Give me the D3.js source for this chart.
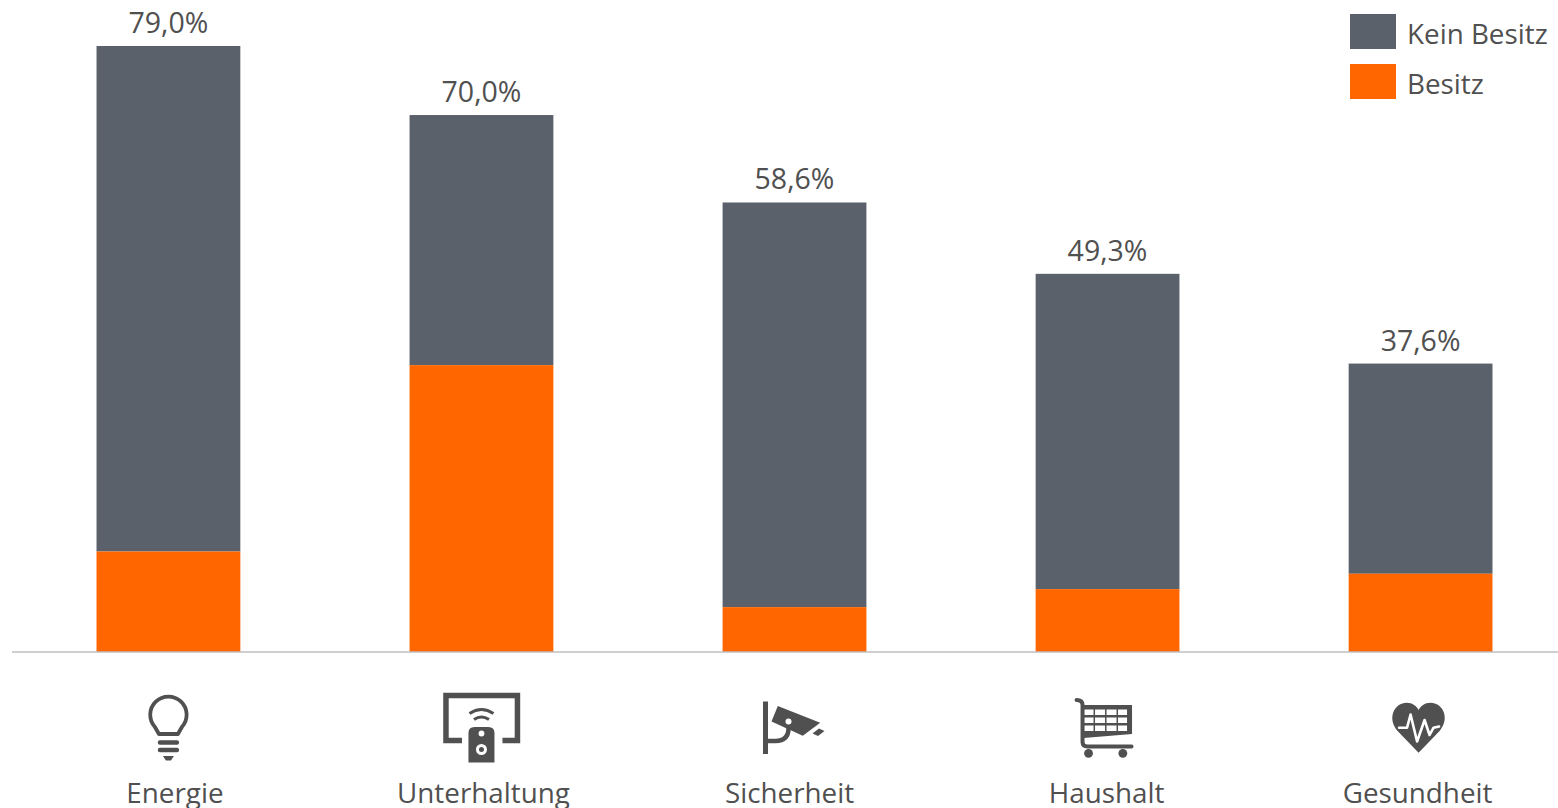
<!DOCTYPE html>
<html lang="de">
<head>
<meta charset="utf-8">
<title>Besitz nach Bereich</title>
<script src="https://cdn.jsdelivr.net/npm/d3@7/dist/d3.min.js"></script>
<style>
  html, body { margin: 0; padding: 0; background: #fff; }
  svg { display: block; }
  text { font-family: "Open Sans", sans-serif; fill: #505050; font-size: 27.8px; }
  text.value { font-size: 28.5px; }
</style>
</head>
<body>
<svg id="chart" width="1558" height="808"></svg>
<script>
// Chart values, in percent
const categories = ["Energie", "Unterhaltung", "Sicherheit", "Haushalt", "Gesundheit"];
const totals = [79.0, 70.0, 58.6, 49.3, 37.6];
const owned = [13.1, 37.4, 5.85, 8.2, 10.2];
const legendLabels = ["Kein Besitz", "Besitz"];

const GREY = "#5a616b", ORANGE = "#ff6600", ICON = "#505050";

const svg = d3.select("#chart");
const x = d3.scaleBand().domain(categories).range([12, 1577]).paddingInner(0.5406).paddingOuter(0.27);
const y = d3.scaleLinear().domain([0, 79]).range([652, 46]);

// Grey column from the owned share up to the total, orange column below it
const rows = categories.map((c, i) => ({ c, total: totals[i], owned: owned[i] }));
const bars = svg.append("g");
bars.selectAll("rect.total").data(rows).join("rect").attr("class", "total")
  .attr("x", d => x(d.c)).attr("width", x.bandwidth())
  .attr("y", d => y(d.total)).attr("height", d => y(d.owned) - y(d.total))
  .attr("fill", GREY);
bars.selectAll("rect.owned").data(rows).join("rect").attr("class", "owned")
  .attr("x", d => x(d.c)).attr("width", x.bandwidth())
  .attr("y", d => y(d.owned)).attr("height", d => y(0) - y(d.owned))
  .attr("fill", ORANGE);

// Total labels above the columns
const fmt = v => v.toFixed(1).replace(".", ",") + "%";
svg.append("g").selectAll("text").data(rows).join("text")
  .attr("class", "value")
  .attr("x", d => x(d.c) + x.bandwidth() / 2)
  .attr("y", d => y(d.total) - 13)
  .attr("text-anchor", "middle")
  .text(d => fmt(d.total));

// Baseline
svg.append("line").attr("x1", 12).attr("x2", 1558)
  .attr("y1", y(0)).attr("y2", y(0))
  .attr("stroke", "#bfbfbf").attr("stroke-width", 1.5);

// Category captions sit slightly off the column centres
const captionShift = [6.5, 2, -5, -1, -3];
svg.append("g").selectAll("text").data(rows).join("text")
  .attr("x", (d, i) => x(d.c) + x.bandwidth() / 2 + captionShift[i])
  .attr("y", 802.5)
  .attr("text-anchor", "middle")
  .text(d => d.c);

// Pictograms, drawn around each column centre
const iconShift = [0, 0, -2, -1, -2];
const icons = {
  Energie(g) {
    g.append("path").attr("fill", "none").attr("stroke", ICON).attr("stroke-width", 3.8)
      .attr("stroke-linejoin", "round")
      .attr("d", "M-9.5 734 L-13.5 727 A18.2 18.2 0 1 1 13.5 727 L9.5 734 Z");
    g.append("path").attr("fill", "none").attr("stroke", ICON).attr("stroke-width", 4.4)
      .attr("stroke-linecap", "round")
      .attr("d", "M-8.5 742.5 H8.5 M-8.5 750 H8.5");
    g.append("path").attr("fill", ICON).attr("d", "M-5.5 756 H5.5 L2.5 760.5 H-2.5 Z");
  },
  Unterhaltung(g) {
    g.append("path").attr("fill", "none").attr("stroke", ICON).attr("stroke-width", 5.5)
      .attr("d", "M-19.5 740.5 H-35.5 V695.5 H36 V740.5 H21");
    g.append("path").attr("fill", ICON)
      .attr("d", "M-13 762.5 V733 Q-13 727 -7 727 H7 Q13 727 13 733 V762.5 Z");
    g.append("circle").attr("cy", 733.5).attr("r", 2.9).attr("fill", "#fff");
    g.append("circle").attr("cy", 749.5).attr("r", 4).attr("fill", "none")
      .attr("stroke", "#fff").attr("stroke-width", 3);
    g.append("path").attr("fill", "none").attr("stroke", ICON).attr("stroke-width", 3)
      .attr("d", "M-7.5 719.5 Q0 714.5 7.5 719.5 M-12 713.5 Q0 705.5 12 713.5");
  },
  Sicherheit(g) {
    g.append("rect").attr("x", -29.5).attr("y", 701.5).attr("width", 5).attr("height", 52.5).attr("fill", ICON);
    g.append("path").attr("fill", "none").attr("stroke", ICON).attr("stroke-width", 4.5)
      .attr("d", "M-25 741 H-17 Q-4 741 -4 728");
    g.append("path").attr("fill", ICON)
      .attr("d", "M-14.7 706 L27.7 722.7 L10.3 735.7 L-21 721.5 Z");
    g.append("circle").attr("cx", -4).attr("cy", 721.5).attr("r", 3).attr("fill", "#fff");
    g.append("path").attr("fill", ICON)
      .attr("d", "M20 733.5 L26.5 728.5 L32 731 L25.5 736 Z");
  },
  Haushalt(g) {
    g.append("path").attr("fill", "none").attr("stroke", ICON).attr("stroke-width", 4)
      .attr("stroke-linecap", "round").attr("stroke-linejoin", "round")
      .attr("d", "M-30 700 Q-24 700 -24 705 V742 Q-24 746.5 -19 746.5 H25");
    g.append("path").attr("fill", ICON).attr("d", "M-23 705 H25.5 V734 L-23 738 Z");
    const cols = [[-22, -13], [-11.5, -1.5], [0, 10], [11.5, 20.5]];
    const cellRows = [[709.5, 715], [717.5, 723], [725.5, 731]];
    cols.forEach(cx => cellRows.forEach(ry => {
      g.append("rect").attr("x", cx[0]).attr("y", ry[0])
        .attr("width", cx[1] - cx[0]).attr("height", ry[1] - ry[0]).attr("fill", "#fff");
    }));
    g.append("circle").attr("cx", -18).attr("cy", 753.3).attr("r", 4.4).attr("fill", ICON);
    g.append("circle").attr("cx", 16.3).attr("cy", 753.3).attr("r", 4.4).attr("fill", ICON);
  },
  Gesundheit(g) {
    g.append("path").attr("fill", ICON)
      .attr("d", "M0 752.7 L-21 731 C-32 718 -24 702.7 -12 702.7 C-6 702.7 -2 706 0 710 C2 706 6 702.7 12 702.7 C24 702.7 32 718 21 731 Z");
    g.append("path").attr("fill", "none").attr("stroke", "#fff").attr("stroke-width", 2.6)
      .attr("stroke-linejoin", "round").attr("stroke-linecap", "round")
      .attr("d", "M-19.5 727.7 H-11.5 L-8 714.5 L-1.5 741.5 L6 720 L11 735 L15 727.7 L20.5 726.5");
  }
};
categories.forEach((c, i) => {
  const g = svg.append("g")
    .attr("transform", `translate(${x(c) + x.bandwidth() / 2 + iconShift[i]},0)`);
  icons[c](g);
});

// Legend
const legendColors = [GREY, ORANGE];
const legendY = d3.scalePoint().domain(legendLabels).range([31.5, 81.5]);
const legend = svg.append("g").selectAll("g").data(legendLabels).join("g")
  .attr("transform", d => `translate(1350,${legendY(d)})`);
legend.append("rect").attr("y", -17.5).attr("width", 46).attr("height", 35)
  .attr("fill", (d, i) => legendColors[i]);
legend.append("text").attr("x", 57).attr("y", 12).text(d => d);
</script>
</body>
</html>
